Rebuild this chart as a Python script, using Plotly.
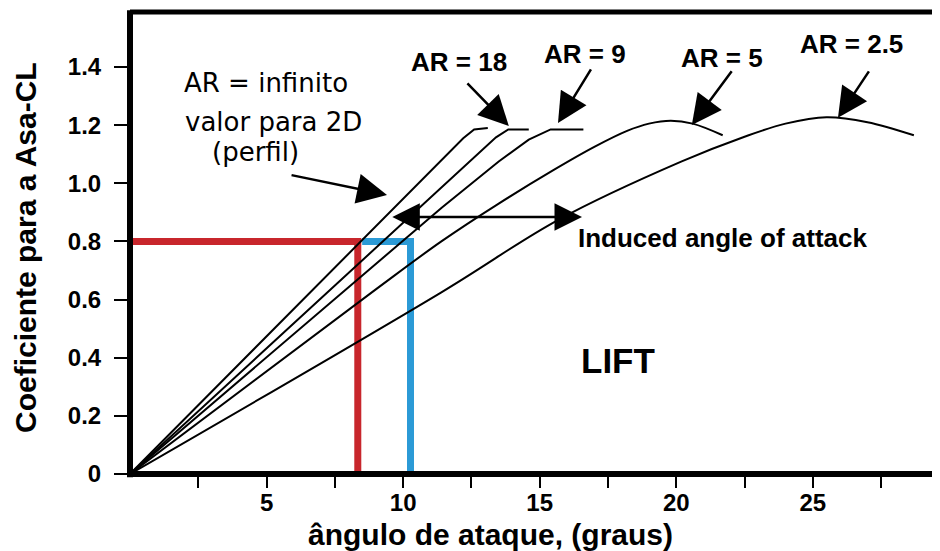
import plotly.graph_objects as go

# ---- data ----
alpha_inf = [0, 12.2, 12.6, 13.1]
cl_inf = [0, 1.155, 1.185, 1.19]
alpha_18 = [0, 13.4, 13.85, 14.6]
cl_18 = [0, 1.158, 1.185, 1.185]
alpha_9 = [0, 11.4, 13.5, 14.6, 15.4, 16.6]
cl_9 = [0, 0.915, 1.075, 1.15, 1.185, 1.185]
alpha_5 = [0, 9.0, 11.4, 13.5, 15.5, 17.0, 18.2, 19.0, 19.8, 20.6, 21.7]
cl_5 = [0, 0.635, 0.80, 0.93, 1.045, 1.125, 1.18, 1.205, 1.215, 1.205, 1.165]
alpha_25 = [0, 11.4, 15.7, 20.2, 22.5, 24.0, 25.5, 27.0, 28.7]
cl_25 = [0, 0.625, 0.875, 1.075, 1.16, 1.205, 1.227, 1.21, 1.165]

red_x = [0, 8.34, 8.34]
red_y = [0.8, 0.8, 0]
blue_x = [8.5, 10.27, 10.27]
blue_y = [0.8, 0.8, 0]

x_tickvals = [2.5, 5, 7.5, 10, 12.5, 15, 17.5, 20, 22.5, 25, 27.5]
x_ticktext = ["", "5", "", "10", "", "15", "", "20", "", "25", ""]
y_tickvals = [0, 0.2, 0.4, 0.6, 0.8, 1.0, 1.2, 1.4]
y_ticktext = ["0", "0.2", "0.4", "0.6", "0.8", "1.0", "1.2", "1.4"]

# labels: (text, x, y, tail_x, tail_y, tip_x, tip_y)
ar_labels = [
    ("AR = 18", 12.04, 1.417, 12.3, 1.349, 13.87, 1.197),
    ("AR = 9", 16.65, 1.445, 16.91, 1.397, 15.67, 1.207),
    ("AR = 5", 21.67, 1.431, 22.07, 1.39, 20.57, 1.20),
    ("AR = 2.5", 26.43, 1.479, 27.09, 1.39, 25.92, 1.225),
]

FONT = "Liberation Sans, Arial, sans-serif"

# page has an 8px body margin: size the figure so it fits the 940x551 window
OFF = 8
W, H = 940 - OFF, 551 - OFF
L, R, T, B = 130 - OFF, 7, 12 - OFF, 77
pw, ph = W - L - R, H - T - B


def paper_xy(sx, sy):
    fx, fy = sx - OFF, sy - OFF
    return (fx - L) / pw, (H - B - fy) / ph


fig = go.Figure()
fig.add_trace(go.Scatter(x=red_x, y=red_y, mode="lines",
                         line=dict(color="#c8262c", width=7), hoverinfo="skip"))
fig.add_trace(go.Scatter(x=blue_x, y=blue_y, mode="lines",
                         line=dict(color="#2b9ad6", width=7), hoverinfo="skip"))

for xs, ys, shape in [(alpha_inf, cl_inf, "linear"), (alpha_18, cl_18, "linear"),
                      (alpha_9, cl_9, "linear"), (alpha_5, cl_5, "spline"),
                      (alpha_25, cl_25, "spline")]:
    fig.add_trace(go.Scatter(x=xs, y=ys, mode="lines",
                             line=dict(color="black", width=2, shape=shape),
                             hoverinfo="skip"))

ann = []
for text, tx, ty, ax_, ay_, x_, y_ in ar_labels:
    ann.append(dict(x=tx, y=ty, xref="x", yref="y", text=text, showarrow=False,
                    font=dict(family=FONT, size=26, color="black", weight="bold")))
    ann.append(dict(x=x_, y=y_, ax=ax_, ay=ay_, xref="x", yref="y", axref="x", ayref="y",
                    text="", showarrow=True, arrowhead=2, arrowsize=2.4, arrowwidth=2.5,
                    arrowcolor="black", standoff=0))

# AR = infinito label
for text, tx, ty in [("AR = infinito", 1.9, 1.345), ("valor para 2D", 1.94, 1.211),
                     ("(perfil)", 2.93, 1.108)]:
    ann.append(dict(x=tx, y=ty, xref="x", yref="y", text=text, showarrow=False,
                    xanchor="left", font=dict(family="DejaVu Sans", size=26, color="black")))
ann.append(dict(x=9.41, y=0.96, ax=5.86, ay=1.029, xref="x", yref="y", axref="x", ayref="y",
                text="", showarrow=True, arrowhead=2, arrowsize=2.4, arrowwidth=2.5,
                arrowcolor="black", standoff=0))

# induced angle arrow
ann.append(dict(x=16.55, y=0.884, ax=9.55, ay=0.884, xref="x", yref="y", axref="x", ayref="y",
                text="", showarrow=True, arrowhead=2, startarrowhead=2, arrowside="end+start",
                arrowsize=2.2, startarrowsize=2.2, arrowwidth=2.5, arrowcolor="black", standoff=0,
                startstandoff=0))
ann.append(dict(x=21.7, y=0.812, xref="x", yref="y", text="Induced angle of attack",
                showarrow=False, font=dict(family=FONT, size=26, color="black", weight="bold")))
ann.append(dict(x=17.86, y=0.392, xref="x", yref="y", text="LIFT", showarrow=False,
                font=dict(family=FONT, size=35, color="black", weight="bold")))

# axis titles (positions given in window pixels)
xt = paper_xy(490, 534)
yt = paper_xy(25, 248)
ann.append(dict(x=xt[0], y=xt[1], xref="paper", yref="paper", text="ângulo de ataque, (graus)",
                xanchor="center", yanchor="middle", showarrow=False,
                font=dict(family=FONT, size=30, color="black", weight="bold")))
ann.append(dict(x=yt[0], y=yt[1], xref="paper", yref="paper", text="Coeficiente para a Asa-CL",
                xanchor="center", yanchor="middle", showarrow=False, textangle=-90,
                font=dict(family=FONT, size=30, color="black", weight="bold")))

xr = (W - L) / pw
shapes = [
    dict(type="line", xref="paper", yref="paper", x0=0, x1=xr, y0=1, y1=1,
         line=dict(color="black", width=5)),
    dict(type="line", xref="paper", yref="paper", x0=0, x1=xr, y0=0, y1=0,
         line=dict(color="black", width=6)),
    dict(type="line", xref="paper", yref="paper", x0=0, x1=0, y0=-0.007, y1=1.004,
         line=dict(color="black", width=6)),
    dict(type="line", xref="paper", yref="paper", x0=1, x1=1, y0=0, y1=1,
         line=dict(color="#dddddd", width=1)),
]

fig.update_layout(
    width=W, height=H,
    margin=dict(l=L, r=R, t=T, b=B),
    paper_bgcolor="white", plot_bgcolor="white",
    showlegend=False,
    annotations=ann, shapes=shapes,
    xaxis=dict(range=[0, 29.4], tickvals=x_tickvals, ticktext=x_ticktext,
               ticks="outside", ticklen=13, tickwidth=2, tickcolor="black",
               showgrid=False, zeroline=False, showline=False, ticklabelstandoff=-6,
               tickfont=dict(family=FONT, size=24, color="black", weight="bold")),
    yaxis=dict(range=[0, 1.589], tickvals=y_tickvals, ticktext=y_ticktext,
               ticks="outside", ticklen=15, tickwidth=2, tickcolor="black",
               showgrid=False, zeroline=False, showline=False, ticklabelstandoff=8,
               tickfont=dict(family=FONT, size=24, color="black", weight="bold")),
)

fig.write_html("out.html")
